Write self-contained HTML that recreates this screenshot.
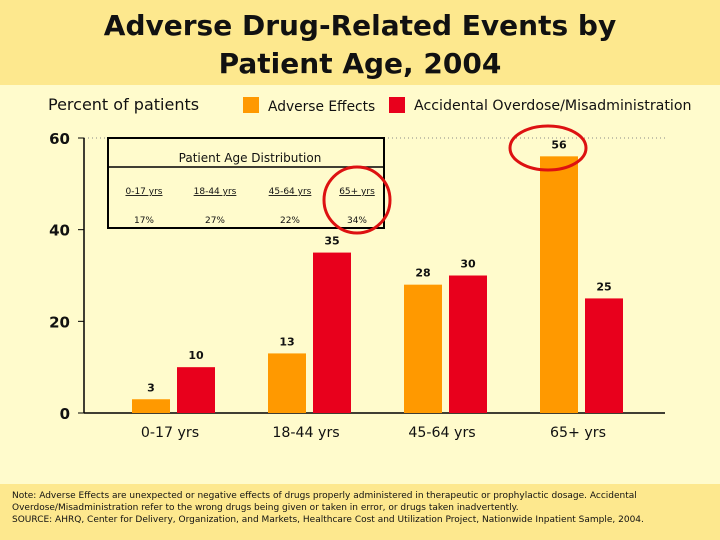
<!DOCTYPE html>
<html><head><meta charset="utf-8"><style>
body{margin:0;width:720px;height:540px;overflow:hidden;background:#fffbcc;font-family:"Liberation Sans","DejaVu Sans",sans-serif}
svg{display:block}
svg text{font-family:"DejaVu Sans","Liberation Sans",sans-serif}
</style></head><body>
<svg width="720" height="540">
<rect x="0" y="0" width="720" height="85" fill="#fde88e"/>
<rect x="0" y="484" width="720" height="56" fill="#fde88e"/>
<text x="360" y="35" text-anchor="middle" font-size="28" font-weight="bold" fill="#111">Adverse Drug-Related Events by</text>
<text x="360" y="73" text-anchor="middle" font-size="28" font-weight="bold" fill="#111">Patient Age, 2004</text>
<text x="48" y="110" font-size="16" fill="#111">Percent of patients</text>
<rect x="243" y="97" width="16" height="16" fill="#ff9900"/>
<text x="268" y="111" font-size="13.8" fill="#111">Adverse Effects</text>
<rect x="389" y="97" width="16" height="16" fill="#e8001c"/>
<text x="414" y="110" font-size="14.2" fill="#111">Accidental Overdose/Misadministration</text>
<g id="plot"></g>
<g>
<rect x="108" y="138" width="276" height="90" fill="none" stroke="#000" stroke-width="2"/>
<line x1="108" y1="167" x2="384" y2="167" stroke="#000" stroke-width="1.5"/>
<text x="250" y="162" text-anchor="middle" font-size="12" font-family="Liberation Sans" fill="#111">Patient Age Distribution</text>
<g font-size="9" font-family="Liberation Sans" fill="#111" text-anchor="middle">
<text x="144" y="194" text-decoration="underline">0-17 yrs</text><text x="144" y="223">17%</text>
<text x="215" y="194" text-decoration="underline">18-44 yrs</text><text x="215" y="223">27%</text>
<text x="290" y="194" text-decoration="underline">45-64 yrs</text><text x="290" y="223">22%</text>
<text x="357" y="194" text-decoration="underline">65+ yrs</text><text x="357" y="223">34%</text>
</g></g>
<ellipse cx="357" cy="200" rx="33" ry="33" fill="none" stroke="#dd1111" stroke-width="3"/>
<ellipse cx="548" cy="148" rx="38" ry="22" fill="none" stroke="#dd1111" stroke-width="3"/>
<text font-size="9" fill="#111">
<tspan x="12" y="498">Note: Adverse Effects are unexpected or negative effects of drugs properly administered in therapeutic or prophylactic dosage. Accidental</tspan>
<tspan x="12" y="510">Overdose/Misadministration refer to the wrong drugs being given or taken in error, or drugs taken inadvertently.</tspan>
<tspan x="12" y="522">SOURCE: AHRQ, Center for Delivery, Organization, and Markets, Healthcare Cost and Utilization Project, Nationwide Inpatient Sample, 2004.</tspan>
</text>
</svg>
<script>
const categories=["0-17 yrs","18-44 yrs","45-64 yrs","65+ yrs"];
const adverseEffects=[3,13,28,56];
const accidentalOverdose=[10,35,30,25];
const yTicks=[0,20,40,60];
const NS="http://www.w3.org/2000/svg";
const g=document.getElementById('plot');
const y=v=>413-v*(275/60);
const xg=i=>132+i*136;
function mk(t,a,p){const e=document.createElementNS(NS,t);for(const k in a)e.setAttribute(k,a[k]);(p||g).appendChild(e);return e;}
mk('line',{x1:84,y1:y(60),x2:665,y2:y(60),stroke:'#888','stroke-dasharray':'1,3'});
let ax=mk('line',{x1:84,y1:y(60),x2:84,y2:413,stroke:'#000','stroke-width':1.5});


let bx=mk('line',{x1:84,y1:413,x2:665,y2:413,stroke:'#000','stroke-width':1.5});


yTicks.forEach(v=>{
 mk('line',{x1:78,y1:y(v),x2:84,y2:y(v),stroke:'#000'});
 const t=mk('text',{x:70,y:y(v)+6,'text-anchor':'end','font-size':15,'font-weight':'bold',fill:'#111'});t.textContent=v;
 
 
});
categories.forEach((c,i)=>{
 [[adverseEffects,'#ff9900',0,'adverse'],[accidentalOverdose,'#e8001c',45,'overdose']].forEach(([arr,col,off,nm])=>{
  const x=xg(i)+off,v=arr[i];
  const r=mk('rect',{x:x,y:y(v),width:38,height:413-y(v),fill:col});
  
  
  const t=mk('text',{x:x+19,y:y(v)-8,'text-anchor':'middle','font-size':11,'font-weight':'bold',fill:'#111'});t.textContent=v;
  
  
 });
 const t=mk('text',{x:xg(i)+38,y:437,'text-anchor':'middle','font-size':14.2,fill:'#111'});t.textContent=c;
 
 
});
</script>
</body></html>
